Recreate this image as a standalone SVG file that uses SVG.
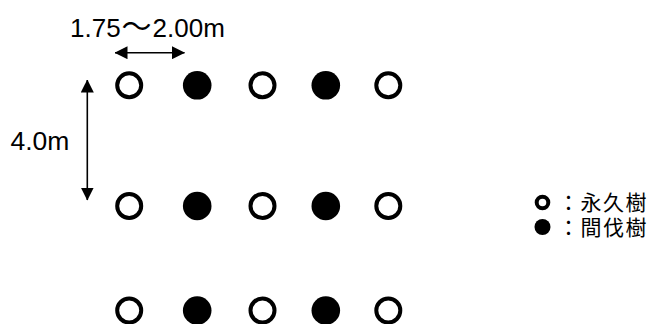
<svg xmlns="http://www.w3.org/2000/svg" width="654" height="324" viewBox="0 0 654 324">
<style>
.open{fill:#fff;stroke:#000;stroke-width:4}
.fill{fill:#000}
.t{font-family:"Liberation Sans","Noto Sans CJK JP",sans-serif;fill:#000}
.ln{stroke:#000;stroke-width:1.6;fill:none}
</style>
<defs>
<marker id="ah" viewBox="0 0 13 13" refX="12.5" refY="6.5" markerWidth="13" markerHeight="13" markerUnits="userSpaceOnUse" orient="auto-start-reverse">
<path d="M0,0L13,6.5L0,13z" fill="#000"/>
</marker>
</defs>
<rect width="654" height="324" fill="#fff"/>
<g id="connectors">
<line class="ln" x1="115" y1="52.7" x2="184.5" y2="52.7" marker-start="url(#ah)" marker-end="url(#ah)"/>
<line class="ln" x1="87.3" y1="80" x2="87.3" y2="200" marker-start="url(#ah)" marker-end="url(#ah)"/>
</g>
<g id="labels">
<text class="t" x="70" y="36.5" font-size="26">1.75<tspan font-size="30" dx="1">〜</tspan><tspan dx="1">2.00m</tspan></text>
<text class="t" x="10.5" y="150" font-size="26.5">4.0m</text>
</g>
<g id="row1">
<circle class="open" cx="129.2" cy="85.3" r="12"/>
<circle class="fill" cx="197.2" cy="85.3" r="14.3"/>
<circle class="open" cx="262.5" cy="85.3" r="12"/>
<circle class="fill" cx="325.8" cy="85.3" r="14.3"/>
<circle class="open" cx="388.3" cy="85.3" r="12"/>
</g>
<g id="row2">
<circle class="open" cx="129.2" cy="206" r="12"/>
<circle class="fill" cx="197.2" cy="206" r="14.3"/>
<circle class="open" cx="262.5" cy="206" r="12"/>
<circle class="fill" cx="325.8" cy="206" r="14.3"/>
<circle class="open" cx="388.3" cy="206" r="12"/>
</g>
<g id="row3">
<circle class="open" cx="129.2" cy="310.5" r="12"/>
<circle class="fill" cx="197.2" cy="310.5" r="14.3"/>
<circle class="open" cx="262.5" cy="310.5" r="12"/>
<circle class="fill" cx="325.8" cy="310.5" r="14.3"/>
<circle class="open" cx="388.3" cy="310.5" r="12"/>
</g>
<g id="legend">
<circle class="open" cx="542.5" cy="202.5" r="5.8" stroke-width="3.5"/>
<circle class="fill" cx="542.5" cy="227" r="8"/>
<text class="t" x="558" y="210" font-size="21" letter-spacing="1.5">：永久樹</text>
<text class="t" x="558" y="235" font-size="21" letter-spacing="1.5">：間伐樹</text>
</g>
</svg>
